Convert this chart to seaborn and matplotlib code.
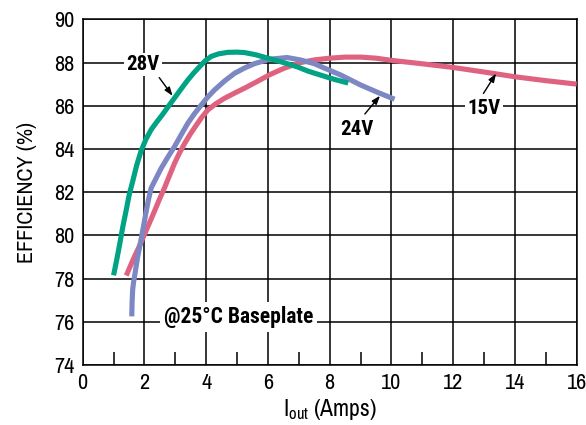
import matplotlib
matplotlib.use("Agg")
import matplotlib.pyplot as plt
import pandas as pd
import seaborn as sns

# efficiency curves (I_out in A, efficiency in %)
v28_iout = [1.0, 1.1, 1.2, 1.3, 1.4, 1.51, 1.62, 1.75, 1.89, 2.05, 2.22, 2.4, 2.59, 2.78, 2.97,
            3.2, 3.41, 3.6, 3.78, 3.97, 4.16, 4.4, 4.7, 5.0, 5.24, 5.6, 6.0, 6.5, 6.95, 7.3,
            7.7, 8.15, 8.6]
v28_eff = [78.15, 78.85, 79.6, 80.4, 81.1, 81.9, 82.5, 83.25, 83.9, 84.45, 84.9, 85.25, 85.6,
           85.98, 86.35, 86.8, 87.2, 87.52, 87.8, 88.08, 88.28, 88.4, 88.47, 88.48, 88.46,
           88.36, 88.2, 88.0, 87.8, 87.6, 87.42, 87.22, 87.05]

v24_iout = [1.59, 1.6, 1.62, 1.65, 1.68, 1.73, 1.78, 1.85, 1.91, 1.98, 2.05, 2.13, 2.22, 2.38,
            2.54, 2.75, 2.97, 3.2, 3.41, 3.62, 3.84, 4.05, 4.27, 4.6, 4.92, 5.25, 5.57, 6.05,
            6.62, 7.05, 7.49, 7.9, 8.36, 9.0, 9.55, 10.1]
v24_eff = [76.25, 76.9, 77.5, 77.85, 78.1, 78.55, 79.0, 79.5, 79.95, 80.5, 81.05, 81.65, 82.2,
           82.65, 83.1, 83.6, 84.1, 84.68, 85.2, 85.63, 86.03, 86.4, 86.73, 87.15, 87.5, 87.75,
           87.95, 88.15, 88.23, 88.12, 87.95, 87.7, 87.42, 86.96, 86.62, 86.3]

v15_iout = [1.41, 1.55, 1.68, 1.82, 1.95, 2.14, 2.32, 2.48, 2.65, 2.81, 2.97, 3.13, 3.3, 3.49,
            3.68, 3.86, 4.05, 4.3, 4.59, 4.9, 5.24, 5.65, 6.05, 6.5, 7.0, 7.5, 8.0, 8.5, 9.0,
            9.5, 10.0, 11.0, 12.0, 13.0, 14.0, 15.0, 16.0]
v15_eff = [78.14, 78.6, 79.03, 79.45, 79.88, 80.5, 81.1, 81.65, 82.2, 82.76, 83.32, 83.8, 84.25,
           84.7, 85.1, 85.47, 85.8, 86.08, 86.34, 86.57, 86.81, 87.12, 87.43, 87.72, 87.98,
           88.12, 88.2, 88.25, 88.25, 88.2, 88.1, 87.94, 87.77, 87.56, 87.34, 87.16, 87.0]

x_ticks = list(range(0, 17, 2))
x_minor = list(range(1, 16, 2))
y_ticks = list(range(74, 91, 2))

green = "#00a383"
blue = "#7c87c3"
pink = "#df6380"

sns.set_style("white")
plt.rcParams["font.family"] = ["Archivo Narrow", "DejaVu Sans"]
plt.rcParams["text.color"] = "black"
plt.rcParams["axes.labelcolor"] = "black"
plt.rcParams["xtick.color"] = "black"
plt.rcParams["ytick.color"] = "black"
plt.rcParams["mathtext.fontset"] = "custom"
plt.rcParams["mathtext.rm"] = "Archivo Narrow"
plt.rcParams["mathtext.it"] = "Archivo Narrow"
bold_family = ["Roboto Condensed", "Fira Sans Condensed", "Archivo Narrow", "DejaVu Sans"]

fig = plt.figure(figsize=(5.86, 4.25), dpi=100)
ax = fig.add_axes([0.1411, 0.1412, 0.843, 0.8134])

ax.set_xlim(0, 16)
ax.set_ylim(74, 90)
ax.set_xticks(x_ticks)
ax.set_yticks(y_ticks)
ax.set_xticks(x_minor, minor=True)
ax.grid(True, which="major", color="black", linewidth=1.1)
ax.set_axisbelow(True)
ax.tick_params(axis="both", which="major", length=0, labelsize=16, pad=6)
ax.tick_params(axis="x", which="minor", direction="in", length=9.5, width=1.1, color="black", bottom=True)
for sp in ax.spines.values():
    sp.set_color("black")
    sp.set_linewidth(1.1)

for xs, ys, col in [(v15_iout, v15_eff, pink), (v24_iout, v24_eff, blue), (v28_iout, v28_eff, green)]:
    df = pd.DataFrame({"iout": xs, "eff": ys})
    sns.lineplot(data=df, x="iout", y="eff", sort=False, color=col, linewidth=3.7, ax=ax,
                 solid_capstyle="butt", solid_joinstyle="round", zorder=3)

box = dict(facecolor="white", edgecolor="none", pad=1.5)
txt = dict(fontsize=15, fontweight="bold", family=bold_family, ha="center", va="center",
           bbox=box, zorder=4)
ax.text(1.96, 87.9, "28V", **txt)
ax.text(8.89, 84.92, "24V", **txt)
ax.text(13.0, 85.85, "15V", **txt)
ax.text(5.04, 76.23, "@25°C Baseplate", fontsize=15.5, fontweight="bold", family=bold_family,
        ha="center", va="center", bbox=dict(facecolor="white", edgecolor="none", pad=3), zorder=4)

arrow = dict(arrowstyle="-|>,head_length=0.5,head_width=0.18", color="black", lw=1.0,
             shrinkA=0, shrinkB=0)
ax.annotate("", xy=(2.91, 86.46), xytext=(2.48, 87.3), arrowprops=arrow, zorder=5)
ax.annotate("", xy=(9.63, 86.46), xytext=(9.14, 85.62), arrowprops=arrow, zorder=5)
ax.annotate("", xy=(13.39, 87.49), xytext=(12.98, 86.57), arrowprops=arrow, zorder=5)

ax.set_xlabel(r"I$_{\mathrm{out}}$ (Amps)", fontsize=17, labelpad=3)
ax.set_ylabel("EFFICIENCY (%)", fontsize=16, labelpad=12)

fig.savefig("out.png", dpi=100)
